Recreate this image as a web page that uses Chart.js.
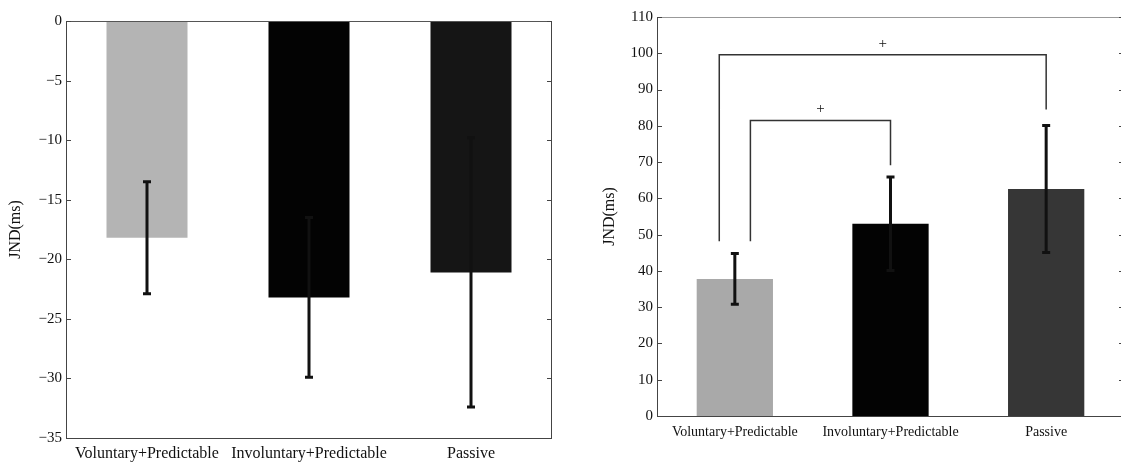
<!DOCTYPE html>
<html>
<head>
<meta charset="utf-8">
<script src="https://cdn.jsdelivr.net/npm/chart.js@4"></script>
<style>
body { margin: 0; background: #fff; overflow: hidden; width: 1121px; height: 466px; position: relative; }
canvas { position: absolute; top: 0; }
#left { left: 0; }
#right { left: 560px; }
</style>
</head>
<body>
<canvas id="left" width="560" height="466"></canvas>
<canvas id="right" width="568" height="466"></canvas>
<script>
const categories = ['Voluntary+Predictable', 'Involuntary+Predictable', 'Passive'];

// left panel (negative JND)
const leftMeans = [-18.2, -23.2, -21.1];
const leftErrors = [4.7, 6.7, 11.3];
const leftColors = ['#b4b4b4', '#030303', '#151515'];
const leftTicks = [0, -5, -10, -15, -20, -25, -30, -35];

// right panel
const rightMeans = [37.8, 53.0, 62.6];
const rightErrors = [7.0, 12.9, 17.5];
const rightColors = ['#a9a9a9', '#030303', '#363636'];
const rightTicks = [0, 10, 20, 30, 40, 50, 60, 70, 80, 90, 100, 110];

// significance brackets: x in category units, y in ms
const brackets = [
    { from: -0.1, to: 2, top: 99.6, fromEnd: 48.2, toEnd: 84.5, mark: '+' },
    { from: 0.1, to: 1, top: 81.5, fromEnd: 48.2, toEnd: 69.1, mark: '+' }
];

const FONT = 'Liberation Serif';
const INK = '#111';

const errorBars = {
    id: 'errorBars',
    afterDatasetsDraw(chart) {
        const { ctx, scales: { y } } = chart;
        const ds = chart.data.datasets[0];
        const meta = chart.getDatasetMeta(0);
        ctx.save();
        ctx.strokeStyle = INK;
        ctx.lineWidth = 3;
        meta.data.forEach((bar, i) => {
            const hi = y.getPixelForValue(ds.data[i] + ds.errors[i]);
            const lo = y.getPixelForValue(ds.data[i] - ds.errors[i]);
            ctx.beginPath();
            ctx.moveTo(bar.x, hi); ctx.lineTo(bar.x, lo);
            ctx.moveTo(bar.x - 4, hi); ctx.lineTo(bar.x + 4, hi);
            ctx.moveTo(bar.x - 4, lo); ctx.lineTo(bar.x + 4, lo);
            ctx.stroke();
        });
        ctx.restore();
    }
};

function framePlugin(topColor) {
    return {
        id: 'frame',
        afterDraw(chart) {
            const { ctx, chartArea: a, scales: { y } } = chart;
            ctx.save();
            ctx.lineWidth = 1;
            ctx.strokeStyle = '#444';
            ctx.beginPath();
            ctx.moveTo(a.left + 0.5, a.top);
            ctx.lineTo(a.left + 0.5, a.bottom + 0.5);
            ctx.lineTo(a.right - 0.5, a.bottom + 0.5);
            ctx.lineTo(a.right - 0.5, a.top);
            ctx.stroke();
            ctx.strokeStyle = topColor;
            ctx.beginPath();
            ctx.moveTo(a.left, a.top + 0.5);
            ctx.lineTo(a.right, a.top + 0.5);
            ctx.stroke();
            // small inward ticks on both sides
            ctx.strokeStyle = '#444';
            y.ticks.forEach(t => {
                const py = Math.round(y.getPixelForValue(t.value)) + 0.5;
                ctx.beginPath();
                ctx.moveTo(a.left, py); ctx.lineTo(a.left + 5, py);
                ctx.moveTo(a.right - 5, py); ctx.lineTo(a.right, py);
                ctx.stroke();
            });
            ctx.restore();
        }
    };
}

const bracketPlugin = {
    id: 'brackets',
    afterDatasetsDraw(chart) {
        const { ctx, scales: { x, y } } = chart;
        ctx.save();
        ctx.strokeStyle = '#333';
        ctx.lineWidth = 1.5;
        ctx.fillStyle = INK;
        ctx.font = '15px "' + FONT + '"';
        ctx.textAlign = 'center';
        ctx.textBaseline = 'middle';
        brackets.forEach(b => {
            const x1 = x.getPixelForValue(b.from);
            const x2 = x.getPixelForValue(b.to);
            const top = y.getPixelForValue(b.top);
            ctx.beginPath();
            ctx.moveTo(x1, y.getPixelForValue(b.fromEnd));
            ctx.lineTo(x1, top);
            ctx.lineTo(x2, top);
            ctx.lineTo(x2, y.getPixelForValue(b.toEnd));
            ctx.stroke();
            ctx.fillText(b.mark, (x1 + x2) / 2, top - 11);
        });
        ctx.restore();
    }
};

function makeChart(id, means, errors, colors, ticks, s) {
    return new Chart(document.getElementById(id), {
        type: 'bar',
        data: {
            labels: categories,
            datasets: [{
                data: means,
                errors: errors,
                backgroundColor: colors,
                borderWidth: 0,
                categoryPercentage: 1,
                barPercentage: s.barPct
            }]
        },
        options: {
            responsive: false,
            animation: false,
            devicePixelRatio: 1,
            layout: { padding: { left: s.padLeft, right: s.padRight, top: s.padTop, bottom: 0 } },
            plugins: { legend: { display: false }, tooltip: { enabled: false } },
            scales: {
                x: {
                    grid: { display: false, drawTicks: false },
                    border: { display: false },
                    ticks: { color: INK, font: { family: FONT, size: s.xFont }, padding: s.xPad, maxRotation: 0, autoSkip: false },
                    afterFit: sc => { sc.height = s.xHeight; }
                },
                y: {
                    min: Math.min(...ticks),
                    max: Math.max(...ticks),
                    grid: { display: false, drawTicks: false },
                    border: { display: false },
                    afterBuildTicks: sc => { sc.ticks = ticks.map(v => ({ value: v })); },
                    ticks: {
                        color: INK,
                        font: { family: FONT, size: 15 },
                        padding: 4,
                        callback: v => v < 0 ? '\u2212' + Math.abs(v) : String(v)
                    },
                    title: { display: true, text: 'JND(ms)', color: INK, font: { family: FONT, size: 16 }, padding: { top: s.titlePad, bottom: 0 } },
                    afterFit: sc => { sc.width = s.yWidth; }
                }
            }
        },
        plugins: s.plugins
    });
}

makeChart('left', leftMeans, leftErrors, leftColors, leftTicks, {
    barPct: 0.5, padLeft: 0, padRight: 8, padTop: 21, xHeight: 28, xPad: 6, xFont: 16,
    yWidth: 66, titlePad: 6, plugins: [errorBars, framePlugin('#555')]
});

makeChart('right', rightMeans, rightErrors, rightColors, rightTicks, {
    barPct: 0.49, padLeft: 35, padRight: 4, padTop: 17, xHeight: 50, xPad: 8, xFont: 14,
    yWidth: 62, titlePad: 5, plugins: [errorBars, bracketPlugin, framePlugin('#999')]
});
</script>
</body>
</html>
